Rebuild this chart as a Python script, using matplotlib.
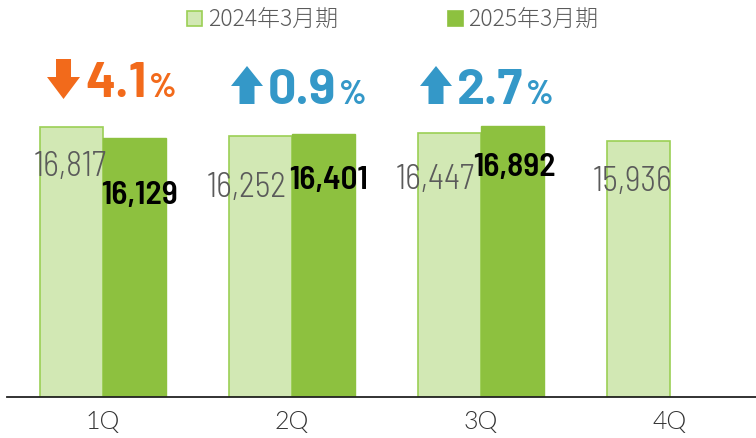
import matplotlib
matplotlib.use("Agg")
import matplotlib.pyplot as plt
from matplotlib.patches import Polygon, Rectangle

categories = ["1Q", "2Q", "3Q", "4Q"]
fy2024 = [16817, 16252, 16447, 15936]
fy2025 = [16129, 16401, 16892]
changes = [-4.1, 0.9, 2.7]
legend_labels = ["2024年3月期", "2025年3月期"]

LIGHT = "#D2E8B4"
LIGHT_EDGE = "#9BCF55"
DARK = "#8DC13F"
ORANGE = "#F26A1B"
BLUE = "#3498C8"
GRAY = "#5A5A5A"

W, H = 756, 439
fig = plt.figure(figsize=(W / 100, H / 100), dpi=100)
ax = fig.add_axes([7 / W, 1 - 398 / H, (756 - 7) / W, 398 / H])
ax.set_xlim(-0.508, 3.455)
ax.set_ylim(0, 24780)
for s in ["top", "right", "left"]:
    ax.spines[s].set_visible(False)
ax.spines["bottom"].set_color("#222222")
ax.spines["bottom"].set_linewidth(1.3)
ax.set_yticks([])

bw = 0.333
x = list(range(len(categories)))
ax.bar([i - bw / 2 for i in x], fy2024, width=bw, color=LIGHT, edgecolor=LIGHT_EDGE, linewidth=1.2)
ax.bar([i + bw / 2 for i in range(len(fy2025))], fy2025, width=bw, color=DARK, edgecolor=DARK, linewidth=1)

semi = ["Barlow Semi Condensed", "DejaVu Sans"]
ax.set_xticks(x)
ax.set_xticklabels(categories, fontsize=18, color="#333333", family=["Lato", "DejaVu Sans"], weight=300)
ax.tick_params(axis="x", length=0, pad=9)

light_off = [(-1, -39), (-14, -51), (-14, -46), (-6, -40)]
dark_off = [(5, -57), (5, -46), (2, -41)]
for i, v in enumerate(fy2024):
    dx, dy = light_off[i]
    ax.annotate(f"{v:,}", (i - bw / 2, v), xytext=(dx * 0.72, dy * 0.72), textcoords="offset points",
                ha="center", va="center", fontsize=24.5, color=GRAY, family=semi, weight=300)
for i, v in enumerate(fy2025):
    dx, dy = dark_off[i]
    ax.annotate(f"{v:,}", (i + bw / 2, v), xytext=(dx * 0.72, dy * 0.72), textcoords="offset points",
                ha="center", va="center", fontsize=24, color="black", weight=600, family=semi)

# change indicators
fig.canvas.draw()
renderer = fig.canvas.get_renderer()
pfont = ["Barlow", "DejaVu Sans"]
for i, c in enumerate(changes):
    cx = ax.transData.transform((i, 0))[0]
    col = ORANGE if c < 0 else BLUE
    if c < 0:
        l, r = cx - 56, cx - 23
        top, bot = H - 60, H - 100
        mid = H - 78
        sw = 7.5
        m = (l + r) / 2
        pts = [(m - sw, top), (m + sw, top), (m + sw, mid), (r, mid), (m, bot), (l, mid), (m - sw, mid)]
        tx, base = cx - 18, H - 97
    else:
        l, r = cx - 61, cx - 29
        top, bot = H - 67, H - 105
        mid = H - 87
        sw = 7.5
        m = (l + r) / 2
        pts = [(m, top), (r, mid), (m + sw, mid), (m + sw, bot), (m - sw, bot), (m - sw, mid), (l, mid)]
        tx, base = cx - 24, H - 104
    fig.patches.append(Polygon(pts, closed=True, transform=None, facecolor=col, edgecolor="none"))
    t = fig.text(tx / W, base / H, f"{abs(c):.1f}", fontsize=36, weight="bold", color=col,
                 family=pfont, ha="left", va="baseline")
    bb = t.get_window_extent(renderer)
    fig.text((bb.x1 + 3) / W, base / H, "%", fontsize=24, weight="bold", color=col,
             family=pfont, ha="left", va="baseline")

# legend
leg_font = ["Noto Sans CJK JP", "DejaVu Sans"]
for lx, tx, lab, fc, ec in [(187, 208, legend_labels[0], LIGHT, LIGHT_EDGE), (448, 468, legend_labels[1], DARK, DARK)]:
    fig.patches.append(Rectangle((lx, H - 27), 15, 15, transform=None, facecolor=fc, edgecolor=ec, linewidth=1.2))
    fig.text(tx / W, (H - 19.5) / H, lab, fontsize=16.5, color=GRAY, family=leg_font, weight="light",
             ha="left", va="center")

fig.savefig("out.png", dpi=100)
